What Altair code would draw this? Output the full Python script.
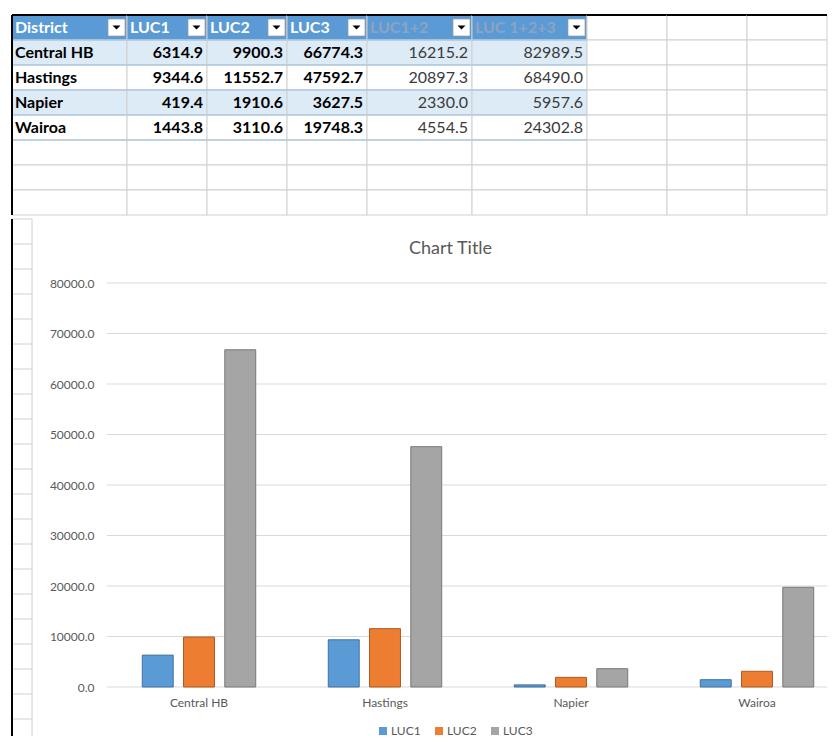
import altair as alt
import pandas as pd

# ---------------- data ----------------
districts = ["Central HB", "Hastings", "Napier", "Wairoa"]
luc1 = [6314.9, 9344.6, 419.4, 1443.8]
luc2 = [9900.3, 11552.7, 1910.6, 3110.6]
luc3 = [66774.3, 47592.7, 3627.5, 19748.3]
luc12 = [16215.2, 20897.3, 2330.0, 4554.5]
luc123 = [82989.5, 68490.0, 5957.6, 24302.8]
headers = ["District", "LUC1", "LUC2", "LUC3", "LUC1+2", "LUC 1+2+3"]
series = ["LUC1", "LUC2", "LUC3"]
y_ticks = [0, 10000, 20000, 30000, 40000, 50000, 60000, 70000, 80000]

# ---------------- layout / style ----------------
col_widths = [115, 80, 80, 80, 105, 115, 80, 80, 80]
N_ROWS = 8
ROW_H = 25
FONT = "Lato"
AXIS_SPACE = 95          # room for the y labels inside the chart object
CHART_W = 815
PLOT_H = 404
BAND_END = 838           # the category axis runs slightly past the visible window
STRIP_W = 20             # sheet column visible left of the chart object
STRIP_TOP = -64          # sheet rows above the plot (chart object top edge)
STRIP_ROWS = 21
STRIP_BOTTOM = 453
bar_fills = ["#5b9bd5", "#ed7d31", "#a5a5a5"]
bar_strokes = ["#41719c", "#ae5a21", "#787878"]
kinds = ["head", "band", "plain", "blank"]
kind_fills = ["#5b9bd5", "#ddebf7", "#ffffff", "#ffffff"]

table_values = [luc1, luc2, luc3, luc12, luc123]


def table_column(ci):
    recs = []
    for r in range(N_ROWS):
        if r == 0:
            label = headers[ci] if ci < 6 else ""
            kind = "head" if ci < 6 else "blank"
        elif r <= 4 and ci < 6:
            if ci == 0:
                label = districts[r - 1]
            else:
                label = f"{table_values[ci - 1][r - 1]:.1f}"
            kind = "band" if r in (1, 3) else "plain"
        else:
            label = ""
            kind = "blank"
        recs.append({"col": f"c{ci}", "row": r, "label": label, "kind": kind})
    df = pd.DataFrame(recs)
    sc_x = alt.Scale(paddingInner=0, paddingOuter=0)
    sc_y = alt.Scale(paddingInner=0, paddingOuter=0)
    xb = alt.X("col:N", axis=None, scale=sc_x)
    yb = alt.Y("row:O", axis=None, scale=sc_y)
    base = alt.Chart(df)

    layers = [
        base.mark_rect(stroke="#d0d0d0", strokeWidth=1).encode(
            x=xb, y=yb,
            fill=alt.Fill("kind:N", scale=alt.Scale(domain=kinds, range=kind_fills), legend=None),
        )
    ]
    if ci < 6:
        layers.append(
            base.transform_filter("datum.row >= 1 && datum.row <= 5")
            .mark_rule(color="#9bc2e6", strokeWidth=1)
            .encode(y=alt.Y("row:O", axis=None, scale=sc_y, bandPosition=0))
        )
        hdr_color = "#ffffff" if ci < 4 else "#8ea3c2"
        layers.append(
            base.transform_filter("datum.row == 0")
            .mark_text(align="left", dx=3, fontSize=16, fontWeight="bold", font=FONT, color=hdr_color)
            .encode(x=alt.X("col:N", axis=None, scale=sc_x, bandPosition=0), y=yb, text="label:N")
        )
        layers.append(
            base.transform_filter("datum.row == 0")
            .mark_square(size=289, fill="#ffffff", stroke="#9a9a9a", strokeWidth=0.7, opacity=1, xOffset=-10.5)
            .encode(x=alt.X("col:N", axis=None, scale=sc_x, bandPosition=1), y=yb)
        )
        layers.append(
            base.transform_filter("datum.row == 0")
            .mark_point(shape="M-1,-0.5L1,-0.5L0,0.5Z", size=64, filled=True, color="#000000",
                        strokeWidth=0, opacity=1, xOffset=-10.5)
            .encode(x=alt.X("col:N", axis=None, scale=sc_x, bandPosition=1), y=yb)
        )
        if ci == 0:
            align, bp, dx = "left", 0, 3
        else:
            align, bp, dx = "right", 1, -4
        bold = "bold" if ci < 4 else "normal"
        tcolor = "#000000" if ci < 4 else "#3a3a3a"
        layers.append(
            base.transform_filter("datum.row >= 1 && datum.row <= 4")
            .mark_text(align=align, dx=dx, fontSize=16, fontWeight=bold, font=FONT, color=tcolor)
            .encode(x=alt.X("col:N", axis=None, scale=sc_x, bandPosition=bp), y=yb, text="label:N")
        )
    # black top border (window edge)
    layers.append(
        base.transform_filter("datum.row == 0")
        .mark_rule(color="#000000", strokeWidth=2)
        .encode(y=alt.Y("row:O", axis=None, scale=sc_y, bandPosition=0))
    )
    if ci == 0:
        layers.append(
            base.transform_filter("datum.row == 0")
            .mark_rule(color="#000000", strokeWidth=2)
            .encode(x=alt.X("col:N", axis=None, scale=sc_x, bandPosition=0))
        )
    return alt.layer(*layers).properties(width=col_widths[ci], height=N_ROWS * ROW_H)


table = alt.hconcat(
    *[table_column(i) for i in range(len(col_widths))], spacing=0, bounds="flush"
).resolve_scale(x="independent", y="independent", fill="independent")

# ---------------- bar chart ----------------
bar_df = pd.DataFrame({
    "District": districts * 3,
    "Series": [s for s in series for _ in districts],
    "Value": luc1 + luc2 + luc3,
})
grid_df = pd.DataFrame({"tick": y_ticks, "g0": 0, "g1": 1})

y_axis = alt.Axis(title=None, values=y_ticks, format=".1f", domain=False, ticks=False, grid=False,
                  labelFontSize=12, labelColor="#595959", labelPadding=13,
                  offset=-AXIS_SPACE, labelFont=FONT)
y_scale = alt.Scale(domain=[0, 80000])

grid = alt.Chart(grid_df).mark_rule(color="#d9d9d9", strokeWidth=1).encode(
    x=alt.X("g0:Q", axis=None, scale=alt.Scale(domain=[0, 1], range=[AXIS_SPACE, CHART_W])),
    x2="g1:Q",
    y=alt.Y("tick:Q", scale=y_scale, axis=None),
)

bars = alt.Chart(bar_df).mark_bar(strokeWidth=1).encode(
    x=alt.X("District:N", sort=districts,
            scale=alt.Scale(paddingInner=0.39, paddingOuter=0.195, range=[AXIS_SPACE - 1, BAND_END]),
            axis=alt.Axis(title=None, labelAngle=0, ticks=False, domain=False, grid=False,
                          labelFontSize=12, labelColor="#595959", labelPadding=10, labelFont=FONT)),
    xOffset=alt.XOffset("Series:N", sort=series, scale=alt.Scale(paddingInner=0.25, paddingOuter=0)),
    y=alt.Y("Value:Q", scale=y_scale, axis=y_axis),
    fill=alt.Fill("Series:N", sort=series, scale=alt.Scale(domain=series, range=bar_fills),
                  legend=alt.Legend(title=None, orient="none", legendX=365, legendY=442,
                                    direction="horizontal", symbolType="square", symbolSize=64,
                                    symbolStrokeWidth=0, labelFontSize=12, labelColor="#595959",
                                    labelFont=FONT, columnPadding=12, labelOffset=2)),
    stroke=alt.Stroke("Series:N", sort=series, scale=alt.Scale(domain=series, range=bar_strokes),
                      legend=None),
)

# sheet strip visible at the left of the chart object
strip_rows = pd.DataFrame({"srow": list(range(STRIP_ROWS)), "s0": 0, "s1": 1})
strip_x = alt.Scale(domain=[0, 1], range=[0, STRIP_W])
strip_lines = alt.Chart(strip_rows).mark_rule(color="#d0d0d0", strokeWidth=1).encode(
    x=alt.X("s0:Q", axis=None, scale=strip_x),
    x2="s1:Q",
    y=alt.Y("srow:O", axis=None, bandPosition=0,
            scale=alt.Scale(range=[STRIP_TOP, STRIP_TOP + STRIP_ROWS * ROW_H], paddingInner=0, paddingOuter=0)),
)
edge_df = pd.DataFrame({"s": [0, 1], "v0": [0, 0], "v1": [1, 1], "edge": ["sheet", "chart"]})
edges = alt.Chart(edge_df).mark_rule().encode(
    x=alt.X("s:Q", axis=None, scale=strip_x),
    y=alt.Y("v0:Q", axis=None, scale=alt.Scale(domain=[0, 1], range=[STRIP_TOP, STRIP_BOTTOM])),
    y2="v1:Q",
    color=alt.Color("edge:N", scale=alt.Scale(domain=["sheet", "chart"], range=["#000000", "#d0d0d0"]),
                    legend=None),
    strokeWidth=alt.StrokeWidth("edge:N", scale=alt.Scale(domain=["sheet", "chart"], range=[2, 1]),
                                legend=None),
)

bar_chart = alt.layer(strip_lines, edges, grid, bars).resolve_scale(
    x="independent", y="independent", color="independent", strokeWidth="independent"
).properties(
    width=CHART_W, height=PLOT_H,
    title=alt.TitleParams("Chart Title", fontSize=18, fontWeight="normal", color="#595959",
                          font=FONT, offset=-40, dx=31),
)

chart = alt.vconcat(table, bar_chart, spacing=0).resolve_scale(
    x="independent", y="independent", fill="independent", stroke="independent"
).properties(
    padding={"left": 2, "top": 5, "right": 0, "bottom": 0}
).configure(font=FONT, view=alt.ViewConfig(stroke="transparent"))

chart.save("out.html", embed_options={"renderer": "svg", "actions": False})
